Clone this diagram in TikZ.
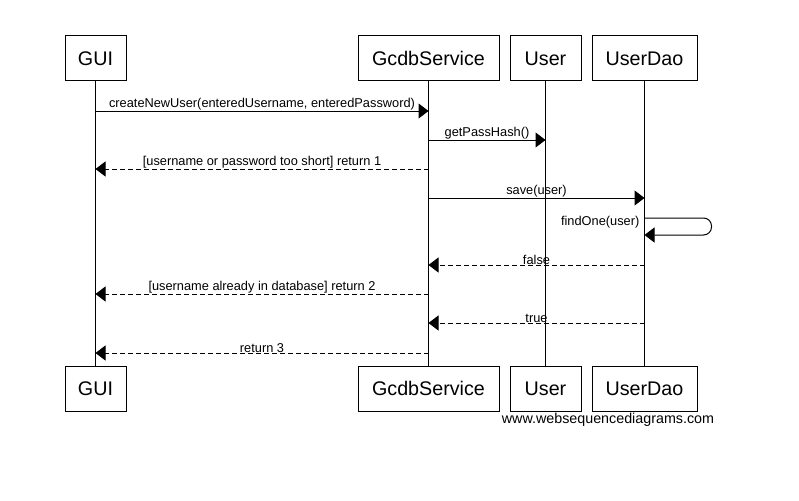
\documentclass[tikz,border=0pt]{standalone}
\usepackage{fontspec}
\setmainfont{Liberation Sans}
\usetikzlibrary{arrows.meta}

\tikzset{
  actor/.style={draw, line width=1pt, minimum height=45pt, inner sep=0pt,
    font=\fontsize{19.7}{22}\selectfont},
  life/.style={line width=1pt},
  msg/.style={line width=1pt, -{Triangle[length=10pt,width=15pt]}},
  reply/.style={msg, dash pattern=on 5pt off 3pt},
  lbl/.style={font=\fontsize{12.8}{14}\selectfont, inner sep=1pt}
}

\begin{document}
\begin{tikzpicture}[x=1pt,y=-1pt]
      \useasboundingbox (0,0) rectangle (799,500);

      % top row
      \node [actor, minimum width=61pt] (gui) at (95.5,58.5) {GUI};
      \node [actor, minimum width=141pt] (svc) at (428.5,58.5) {GcdbService};
      \node [actor, minimum width=71pt] (user) at (545.5,58.5) {User};
      \node [actor, minimum width=105pt] (dao) at (644.5,58.5) {UserDao};

      % bottom row
      \node [actor, minimum width=61pt] (gui2) at (95.5,388.5) {GUI};
      \node [actor, minimum width=141pt] (svc2) at (428.5,388.5) {GcdbService};
      \node [actor, minimum width=71pt] (user2) at (545.5,388.5) {User};
      \node [actor, minimum width=105pt] (dao2) at (644.5,388.5) {UserDao};

      \draw[life] (gui) -- (gui2);
      \draw[life] (svc) -- (svc2);
      \draw[life] (user) -- (user2);
      \draw[life] (dao) -- (dao2);

      % message rows
      \coordinate (m1) at (0,111);
      \coordinate (m2) at (0,140);
      \coordinate (m3) at (0,169);
      \coordinate (m4) at (0,198);
      \coordinate (m5) at (0,218);
      \coordinate (m6) at (0,235);
      \coordinate (m7) at (0,265);
      \coordinate (m8) at (0,294);
      \coordinate (m9) at (0,323);
      \coordinate (m10) at (0,353);

      \draw[msg] (gui |- m1) -- node[lbl,above,yshift=-1pt] {createNewUser(enteredUsername, enteredPassword)} (svc |- m1);
      \draw[msg] (svc |- m2) -- node[lbl,above,yshift=-1pt] {getPassHash()} (user |- m2);
      \draw[reply] (svc |- m3) -- node[lbl,above,yshift=-1pt] {[username or password too short] return 1} (gui |- m3);
      \draw[msg] (svc |- m4) -- node[lbl,above,yshift=-1pt] {save(user)} (dao |- m4);
      \draw[msg, rounded corners=8pt] (dao |- m5) -- ++(67,0) -- ++(0,17) -- (dao |- m6);
      \node[lbl, anchor=east] (find) at ([xshift=-4pt,yshift=-4pt]dao |- m5) {findOne(user)};
      \draw[reply] (dao |- m7) -- node[lbl,above,yshift=-1pt] {false} (svc |- m7);
      \draw[reply] (svc |- m8) -- node[lbl,above,yshift=-1pt] {[username already in database] return 2} (gui |- m8);
      \draw[reply] (dao |- m9) -- node[lbl,above,yshift=-1pt] {true} (svc |- m9);
      \draw[reply] (svc |- m10) -- node[lbl,above,yshift=-1pt] {return 3} (gui |- m10);

      \node[font=\fontsize{14.3}{16}\selectfont] (site) at (608,420) {www.websequencediagrams.com};
    \end{tikzpicture}
\end{document}
